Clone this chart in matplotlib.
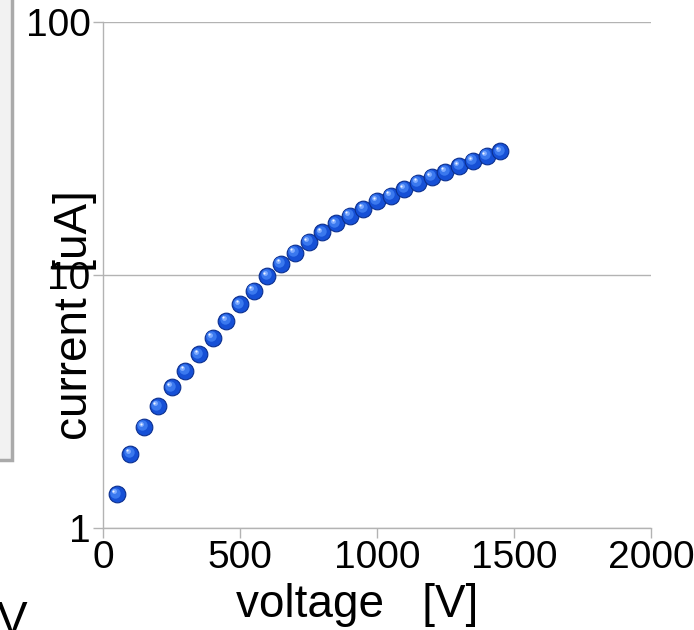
# I-V curve on a log scale, redrawn from a spreadsheet chart export.

import matplotlib
matplotlib.use("Agg")
import matplotlib.pyplot as plt
import matplotlib.transforms as mtransforms
from matplotlib.patches import Rectangle

plt.rcParams["font.family"] = ["Liberation Sans", "DejaVu Sans"]

# measured points
voltage = [50, 100, 150, 200, 250, 300, 350, 400, 450, 500,
           550, 600, 650, 700, 750, 800, 850, 900, 950, 1000,
           1050, 1100, 1150, 1200, 1250, 1300, 1350, 1400, 1450]
current = [1.36, 1.97, 2.51, 3.03, 3.60, 4.19, 4.86, 5.65, 6.60, 7.66,
           8.67, 9.91, 11.1, 12.25, 13.5, 14.75, 16.0, 17.15, 18.27, 19.6,
           20.6, 21.9, 23.2, 24.4, 25.6, 27.0, 28.2, 29.5, 30.8]

x_ticks = [0, 500, 1000, 1500, 2000]
y_ticks = [1, 10, 100]

GRID = "#b3b3b3"

fig = plt.figure(figsize=(6.94, 6.3), dpi=100)

# left-over panel from the neighbouring chart
fig.patches.append(Rectangle((-0.02, 1 - 460 / 630), 0.02 + 12 / 694, 0.75,
                             transform=fig.transFigure, facecolor="#f2f2f2",
                             edgecolor="#aaaaaa", linewidth=2.5))

ax = fig.add_axes([103 / 694, 1 - 528 / 630, 548 / 694, 506 / 630])
ax.set_yscale("log")
ax.set_xlim(0, 2000)
ax.set_ylim(1, 100)
ax.set_xticks(x_ticks)
ax.set_xticklabels([str(v) for v in x_ticks])
ax.set_yticks(y_ticks)
ax.set_yticklabels([str(v) for v in y_ticks])
ax.yaxis.set_minor_locator(matplotlib.ticker.NullLocator())
ax.tick_params(axis="both", direction="out", length=7, width=1, color=GRID,
               labelsize=28, pad=2)
ax.grid(axis="y", color=GRID, linewidth=1)
ax.set_axisbelow(True)
for side in ["top", "right"]:
    ax.spines[side].set_visible(False)
for side in ["left", "bottom"]:
    ax.spines[side].set_color(GRID)
    ax.spines[side].set_linewidth(1)

# sphere-like markers: dark base, then lighter highlights nudged up-left
ax.plot(voltage, current, "o", ms=12, color="#1650d6", mec="#0b2f8f", mew=0.8,
        zorder=3, clip_on=False)
hl = mtransforms.offset_copy(ax.transData, fig=fig, x=-1.2, y=1.2, units="points")
ax.plot(voltage, current, "o", ms=7.5, color="#3a78ee", mec="none",
        transform=hl, zorder=4, clip_on=False)
hl2 = mtransforms.offset_copy(ax.transData, fig=fig, x=-2.0, y=2.0, units="points")
ax.plot(voltage, current, "o", ms=3.5, color="#7eaaff", mec="none",
        transform=hl2, zorder=5, clip_on=False)
hl3 = mtransforms.offset_copy(ax.transData, fig=fig, x=-2.4, y=2.4, units="points")
ax.plot(voltage, current, "o", ms=1.5, color="#eef4ff", mec="none",
        transform=hl3, zorder=6, clip_on=False)

fig.text(75 / 694, 0.5, "current  [uA]", rotation=90, ha="center", va="center",
         fontsize=33)
fig.text(357 / 694, 1 - 617 / 630, "voltage   [V]", ha="center", va="baseline",
         fontsize=33)
fig.text(-3 / 694, -4 / 630, "V", ha="left", va="baseline", fontsize=33)

fig.savefig("out.png", dpi=100)
